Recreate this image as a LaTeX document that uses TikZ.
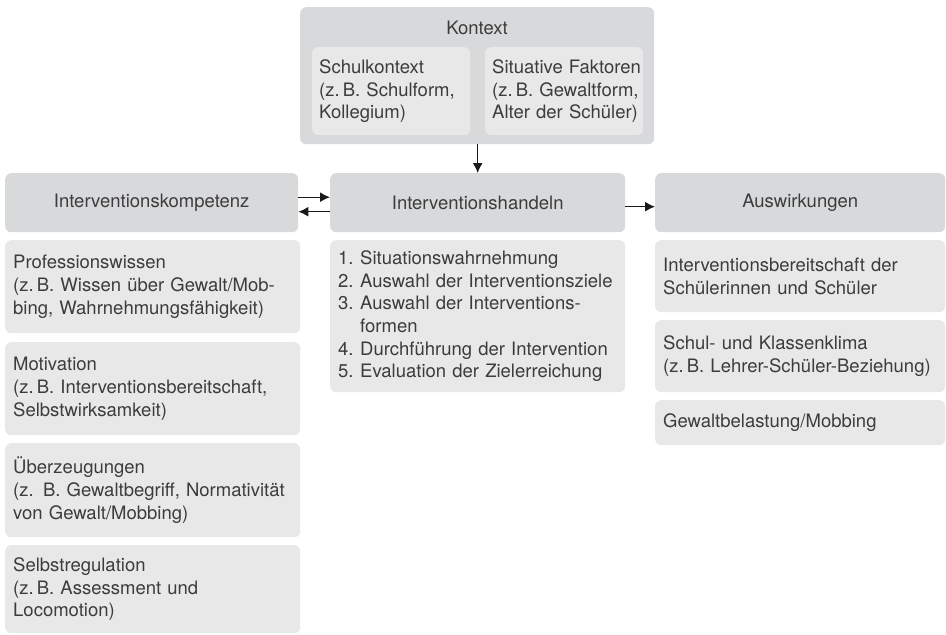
\documentclass[tikz,border=0pt]{standalone}
\usepackage{fontspec}
\setmainfont{TeX Gyre Heros}
\usetikzlibrary{arrows.meta}

\definecolor{headgray}{RGB}{216,217,219}
\definecolor{boxgray}{RGB}{232,232,232}
\definecolor{txtgray}{RGB}{60,60,60}
\definecolor{arrgray}{RGB}{25,25,25}

\tikzset{
  head/.style={fill=headgray, rounded corners=6pt, text=txtgray, anchor=north west,
    inner sep=0pt, minimum height=59pt, align=center},
  item/.style={fill=boxgray, rounded corners=6pt, text=txtgray, anchor=north west,
    inner xsep=8pt, inner ysep=0pt, align=left},
  arr/.style={-{Latex[length=10pt,width=10pt]}, line width=1.4pt, draw=arrgray}
}
\newcommand{\num}[1]{\makebox[22pt][l]{#1}}

\begin{document}
\begin{tikzpicture}[x=1pt,y=-1pt,font=\fontsize{18.5}{22.7}\selectfont]
\useasboundingbox (0,0) rectangle (946,635);

% Kontext
\node[head, minimum width=354pt, minimum height=137pt] (kontext) at (300,7) {};
\node[text=txtgray] (kontextlabel) at (477,28) {Kontext};
\node[item, text width=144pt, minimum height=88pt, inner xsep=7pt] (schule) at (312,47)
  {\mbox{Schulkontext}\\\mbox{(z.\,B. Schulform,}\\\mbox{Kollegium)}};
\node[item, text width=144pt, minimum height=88pt, inner xsep=7pt] (faktoren) at (485,47)
  {\mbox{Situative Faktoren}\\\mbox{(z.\,B. Gewaltform,}\\\mbox{Alter der Schüler)}};

% Kopfzeile
\node[head, minimum width=293pt] (kompetenz) at (5,173) {Interventionskompetenz};
\node[head, minimum width=295pt] (handeln) at (330,173) {Interventionshandeln};
\node[head, minimum width=290pt] (wirkung) at (655,173) {Auswirkungen};

% linke Spalte
\node[item, text width=279pt, minimum height=93pt] (wissen) at (5,240)
  {Professionswissen\\(z.\,B. Wissen über Gewalt/Mob-\\bing, Wahrnehmungsfähigkeit)};
\node[item, text width=279pt, minimum height=93pt] (motiv) at (5,342)
  {Motivation\\(z.\,B. Interventionsbereitschaft,\\Selbstwirksamkeit)};
\node[item, text width=279pt, minimum height=94pt] (glaube) at (5,443)
  {Überzeugungen\\(z. B. Gewaltbegriff, Normativität\\von Gewalt/Mobbing)};
\node[item, text width=279pt, minimum height=88pt] (regul) at (5,545)
  {Selbstregulation\\(z.\,B. Assessment und\\Locomotion)};

% mittlere Spalte
\node[item, text width=279pt, minimum height=152pt] (schritte) at (330,240)
  {\num{1.}Situationswahrnehmung\\
   \num{2.}Auswahl der Interventionsziele\\
   \num{3.}Auswahl der Interventions-\\
   \num{}formen\\
   \num{4.}Durchführung der Intervention\\
   \num{5.}Evaluation der Zielerreichung};

% rechte Spalte
\node[item, text width=274pt, minimum height=72pt] (bereit) at (655,240)
  {Interventionsbereitschaft der\\Schülerinnen und Schüler};
\node[item, text width=274pt, minimum height=72pt] (klima) at (655,320)
  {Schul- und Klassenklima\\(z.\,B. Lehrer-Schüler-Beziehung)};
\node[item, text width=274pt, minimum height=45pt] (belast) at (655,400)
  {Gewaltbelastung/Mobbing};

% Pfeile
\draw[arr] (handeln.north |- kontext.south) -- (handeln.north);
\draw[arr] ([yshift=5.5pt]kompetenz.east) -- ([yshift=5.5pt]handeln.west);
\draw[arr] ([yshift=-9pt]handeln.west) -- ([yshift=-9pt]kompetenz.east);
\draw[arr] ([yshift=-4pt]handeln.east) -- ([yshift=-4pt]wirkung.west);
\end{tikzpicture}
\end{document}
